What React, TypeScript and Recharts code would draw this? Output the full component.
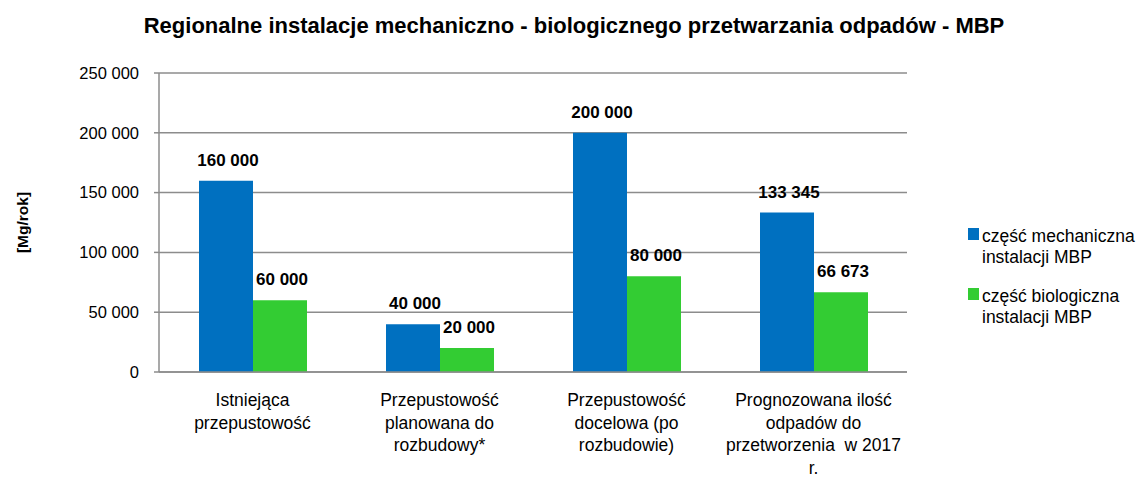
import { BarChart, Bar, XAxis, YAxis, CartesianGrid, LabelList } from "recharts";

// Data
const CATEGORIES = [
  ["Istniejąca", "przepustowość"],
  ["Przepustowość", "planowana do", "rozbudowy*"],
  ["Przepustowość", "docelowa (po", "rozbudowie)"],
  ["Prognozowana ilość", "odpadów do", "przetworzenia  w 2017", "r."],
];
const MECHANICAL = [160000, 40000, 200000, 133345];
const BIOLOGICAL = [60000, 20000, 80000, 66673];
const Y_TICKS = [0, 50000, 100000, 150000, 200000, 250000];
const SERIES_NAMES = ["część mechaniczna instalacji MBP", "część biologiczna instalacji MBP"];
const LEGEND_LINES = [
  ["część mechaniczna", "instalacji MBP"],
  ["część biologiczna", "instalacji MBP"],
];

const FONT = "'Liberation Sans', Arial, sans-serif";
const BLUE = "#0070C0";
const GREEN = "#33CC33";
const GRID = "#8c8c8c";

const data = CATEGORIES.map((lines, i) => ({
  name: lines.join(" "),
  mech: MECHANICAL[i],
  bio: BIOLOGICAL[i],
}));

const fmt = (v: number) => String(v).replace(/\B(?=(\d{3})+(?!\d))/g, " ");

function CategoryTick(props: any) {
  const { x, y, index } = props;
  const lines = CATEGORIES[index] || [];
  return (
    <text x={x} y={y} textAnchor="middle" fontFamily={FONT} fontSize={17.5} fill="#000">
      {lines.map((l, i) => (
        <tspan key={i} x={x} dy={i === 0 ? 26 : 22.5} style={{ whiteSpace: "pre" }}>
          {l}
        </tspan>
      ))}
    </text>
  );
}

// value label above each bar, no wrapping
function renderValue(props: any) {
  const { x, y, width, value } = props;
  return (
    <text
      x={Number(x) + Number(width) / 2 + 2}
      y={Number(y) - 15}
      textAnchor="middle"
      fontFamily={FONT}
      fontWeight="bold"
      fontSize={17}
      fill="#000"
    >
      {fmt(Number(value))}
    </text>
  );
}

function LegendBox() {
  const colors = [BLUE, GREEN];
  return (
    <div
      style={{
        position: "absolute",
        left: 968,
        top: 226,
        fontFamily: FONT,
        fontSize: 17.5,
        color: "#000",
        whiteSpace: "nowrap",
      }}
    >
      {LEGEND_LINES.map((l, i) => (
        <div key={i} title={SERIES_NAMES[i]} style={{ position: "relative", paddingLeft: 14, lineHeight: "21px", marginBottom: 18 }}>
          <span style={{ position: "absolute", left: 0, top: 2, width: 11, height: 12, background: colors[i] }} />
          {l[0]}
          <br />
          {l[1]}
        </div>
      ))}
    </div>
  );
}

export default function App() {
  return (
    <div style={{ position: "absolute", left: 0, top: 0, width: 1137, height: 477, background: "#fff", overflow: "hidden" }}>
      <div
        style={{
          position: "absolute",
          left: 0,
          width: 1148,
          top: 13,
          textAlign: "center",
          fontFamily: FONT,
          fontWeight: "bold",
          fontSize: 22,
        }}
      >
        Regionalne instalacje mechaniczno - biologicznego przetwarzania odpadów - MBP
      </div>
      <BarChart
        width={1137}
        height={477}
        data={data}
        margin={{ top: 73, right: 230, bottom: 0, left: 0 }}
        barCategoryGap={40}
        barGap={0}
      >
        <CartesianGrid vertical={false} stroke={GRID} strokeWidth={1.5} />
        <XAxis
          dataKey="name"
          height={105}
          interval={0}
          tick={<CategoryTick />}
          tickLine={false}
          axisLine={{ stroke: GRID, strokeWidth: 1.5 }}
        />
        <YAxis
          width={159}
          domain={[0, 250000]}
          ticks={Y_TICKS}
          tickFormatter={fmt}
          tickSize={5}
          tickMargin={15}
          tick={{ fontFamily: FONT, fontSize: 16.5, fill: "#000" }}
          tickLine={{ stroke: GRID, strokeWidth: 1.5 }}
          axisLine={{ stroke: GRID, strokeWidth: 1.5 }}
          label={{
            value: "[Mg/rok]",
            angle: -90,
            position: "insideLeft",
            offset: 0,
            dx: 22,
            style: { fontFamily: FONT, fontWeight: "bold", fontSize: 15.5, fill: "#000", textAnchor: "middle" },
          }}
        />
        <Bar dataKey="mech" name={SERIES_NAMES[0]} fill={BLUE} isAnimationActive={false}>
          <LabelList dataKey="mech" content={renderValue} />
        </Bar>
        <Bar dataKey="bio" name={SERIES_NAMES[1]} fill={GREEN} isAnimationActive={false}>
          <LabelList dataKey="bio" content={renderValue} />
        </Bar>
      </BarChart>
      <LegendBox />
    </div>
  );
}
